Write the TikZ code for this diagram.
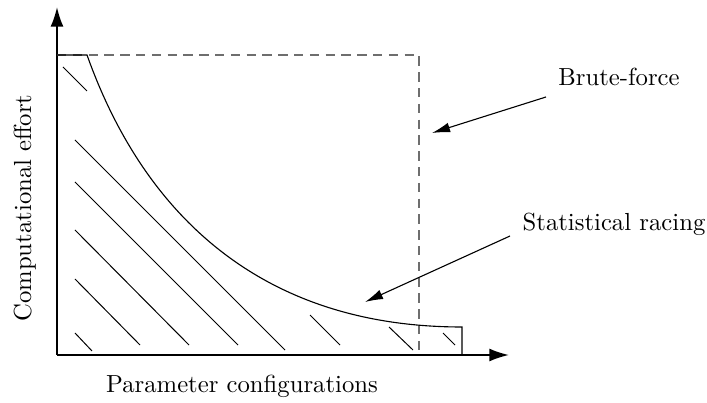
\documentclass[tikz,border=0pt]{standalone}
\usepackage{tikz}
\usetikzlibrary{arrows.meta}
\definecolor{DashGray}{RGB}{110,110,110}

\begin{document}
\begin{tikzpicture}[
      x=0.405pt,y=-0.405pt,
      axis/.style={-{Latex[length=8pt,width=5.3pt]},line width=0.8pt},
      bound/.style={dashed,dash pattern=on 3.8pt off 2.6pt,color=DashGray,line width=0.5pt},
      curveLine/.style={line width=0.45pt},
      hatch/.style={line width=0.4pt},
      lbl/.style={anchor=base,font=\normalsize},
      ar/.style={-{Latex[length=7.3pt,width=4pt]},line width=0.45pt}
    ]
    \useasboundingbox (0,0) rectangle (707,403);

    % Axes
    \coordinate (O) at (57,355);
    \coordinate (ytip) at (57,7);
    \coordinate (xtip) at (509,355);
    \draw[axis] (O) -- (ytip);
    \draw[axis] (O) -- (xtip);

    % Brute-force region (dashed)
    \draw[bound] (57,55) -- (419,55) -- (419,355);

    % Statistical racing region
    \draw[curveLine] (57,55) -- (87,55)
      .. controls (122,153) and (212,327) .. (462,327)
      -- (462,355);

    % Hatching
    \foreach \a/\b/\c/\d in {63/67/87/91, 75/140/285/350, 75/182/238/345,
        75/230/189/345, 75/279/140/345, 75/333/92/351, 310/315/340/345,
        389/327/413/350, 443/333/455/345}
      \draw[hatch] (\a,\b) -- (\c,\d);

    % Labels
    \node(yLbl)[lbl,rotate=90] at (31,208) {Computational effort};
    \node(xLbl)[lbl] at (242,393) {Parameter configurations};
    \node(bruteLbl)[lbl] at (619,86) {Brute-force};
    \node(racingLbl)[lbl] at (614,231) {Statistical racing};

    % Label arrows
    \coordinate (bruteFrom) at (546,97);
    \coordinate (bruteTip) at (432,133);
    \coordinate (racingFrom) at (510,236);
    \coordinate (racingTip) at (365,302);
    \draw[ar] (bruteFrom) -- (bruteTip);
    \draw[ar] (racingFrom) -- (racingTip);
  \end{tikzpicture}
\end{document}
